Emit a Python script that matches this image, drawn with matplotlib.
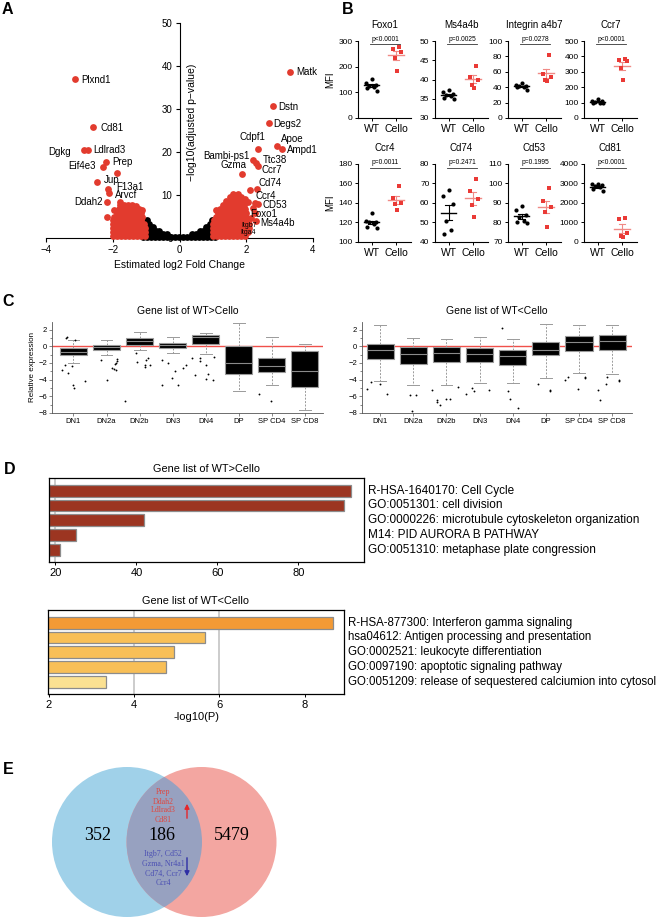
import matplotlib
matplotlib.use('Agg')
import matplotlib.pyplot as plt
from matplotlib.patches import Circle, FancyArrowPatch
import numpy as np

plt.rcParams['font.family'] = ['Liberation Sans', 'DejaVu Sans']
plt.rcParams['axes.linewidth'] = 0.8

W, H = 664, 917

# ---------------- A: volcano ----------------
# non-significant genes, read off as rows of (-log10 p, [log2 FC ...])
ns_rows = [
    (0.2, [-1.1, -0.98, -0.86, -0.74, -0.62, -0.5, -0.38, -0.26, -0.14, -0.02,
           0.1, 0.22, 0.34, 0.46, 0.58, 0.7, 0.82, 0.94, 1.06]),
    (0.9, [-1.08, -0.96, -0.84, -0.72, -0.6, -0.48, -0.38, 0.38, 0.48, 0.6, 0.72, 0.84, 0.96, 1.08]),
    (1.7, [-1.06, -0.94, -0.82, -0.7, -0.6, 0.6, 0.7, 0.82, 0.94, 1.06]),
    (2.5, [-1.04, -0.92, -0.8, 0.8, 0.92, 1.04]),
    (3.3, [-1.0, -0.9, 0.9, 1.0]),
    (4.1, [-0.97, 0.97]),
]
# significant genes, down (left) and up (right)
dn_rows = [
    (0.5, [-1.98, -1.86, -1.74, -1.62, -1.5, -1.38, -1.26, -1.14, -1.02]),
    (1.4, [-2.0, -1.88, -1.76, -1.64, -1.52, -1.4, -1.28, -1.16, -1.04]),
    (2.3, [-2.0, -1.88, -1.76, -1.64, -1.52, -1.4, -1.28, -1.16, -1.04]),
    (3.2, [-2.0, -1.88, -1.76, -1.64, -1.52, -1.4, -1.28, -1.16, -1.06]),
    (4.1, [-1.98, -1.86, -1.74, -1.62, -1.5, -1.38, -1.26, -1.14]),
    (4.8, [-2.18]),
    (5.0, [-1.95, -1.83, -1.71, -1.59, -1.47, -1.35, -1.23, -1.13]),
    (5.9, [-1.88, -1.76, -1.64, -1.52, -1.4, -1.28, -1.16]),
    (6.6, [-1.97, -1.12]),
    (6.8, [-1.82, -1.7, -1.58, -1.46, -1.34, -1.22]),
    (7.4, [-1.3]),
    (7.6, [-1.78, -1.66, -1.55, -1.43]),
    (8.4, [-1.79]),
    (15.1, [-1.87]),
]
up_rows = [
    (0.5, [1.0, 1.12, 1.24, 1.36, 1.48, 1.6, 1.72, 1.84, 1.96]),
    (1.4, [1.0, 1.12, 1.24, 1.36, 1.48, 1.6, 1.72, 1.84, 1.96, 2.05]),
    (2.3, [1.0, 1.12, 1.24, 1.36, 1.48, 1.6, 1.72, 1.84, 1.96, 2.08]),
    (3.2, [1.0, 1.12, 1.24, 1.36, 1.48, 1.6, 1.72, 1.84, 1.96, 2.08]),
    (4.1, [1.02, 1.14, 1.26, 1.38, 1.5, 1.62, 1.74, 1.86, 1.98]),
    (4.6, [2.15]),
    (5.0, [1.08, 1.2, 1.32, 1.44, 1.56, 1.68, 1.8, 1.92, 2.0]),
    (5.9, [1.15, 1.27, 1.39, 1.51, 1.63, 1.75, 1.87, 1.98, 2.25]),
    (6.5, [1.1]),
    (6.8, [1.22, 1.34, 1.46, 1.58, 1.7, 1.82, 1.96]),
    (7.0, [2.2]),
    (7.7, [1.3, 1.42, 1.54, 1.66, 1.78, 1.92]),
    (8.4, [2.05]),
    (8.6, [1.4, 1.52, 1.64, 1.76, 1.88]),
    (9.0, [1.97]),
    (9.5, [1.5, 1.62, 1.74, 1.85]),
    (10.3, [1.6, 1.75]),
    (11.1, [2.11]),
]

genes = ['Plxnd1', 'Cd81', 'Dgkg', 'Ldlrad3', 'Prep', 'Eif4e3', 'Jup', 'F13a1', 'Arvcf', 'Ddah2',
         'Matk', 'Dstn', 'Degs2', 'Apoe', 'Ampd1', 'Cdpf1', 'Bambi-ps1', 'Ttc38', 'Gzma', 'Ccr7',
         'Cd74', 'Ccr4', 'CD53', 'Foxo1', 'Ms4a4b', 'Itgb7', 'Itga4']
gene_fc = [-3.13, -2.59, -2.87, -2.75, -2.19, -2.29, -2.46, -2.13, -2.11, -2.16,
           3.31, 2.81, 2.67, 2.92, 3.08, 2.35, 2.19, 2.29, 1.87, 2.35,
           2.32, 2.27, 2.34, 2.04, 2.29, 1.72, 1.68]
gene_p = [37.0, 25.8, 20.4, 20.4, 17.7, 16.4, 13.0, 11.5, 10.5, 8.4,
          38.5, 30.6, 26.7, 21.5, 20.7, 20.6, 18.2, 17.4, 15.0, 16.7,
          11.3, 8.2, 7.9, 4.3, 4.0, 2.8, 1.2]
# label placement: pixel offsets from the point and alignment
label_pos = {'Plxnd1': (6, -1, 'left'), 'Cd81': (7, -1, 'left'), 'Dgkg': (-13, -2, 'right'),
             'Ldlrad3': (6, 0, 'left'), 'Prep': (6, 0, 'left'), 'Eif4e3': (-7, 1, 'right'),
             'Jup': (6, 2, 'left'), 'F13a1': (8, 2, 'left'), 'Arvcf': (6, -2, 'left'),
             'Ddah2': (-5, 0, 'right'), 'Matk': (6, 0, 'left'), 'Dstn': (5, -1, 'left'),
             'Degs2': (5, -1, 'left'), 'Apoe': (4, 7, 'left'), 'Ampd1': (5, -1, 'left'),
             'Cdpf1': (-5, 12, 'center'), 'Bambi-ps1': (-3, 4, 'right'), 'Ttc38': (7, 3, 'left'),
             'Gzma': (5, 9, 'right'), 'Ccr7': (4, -4, 'left'), 'Cd74': (2, 6, 'left'),
             'Ccr4': (0, 7, 'left'), 'CD53': (5, -1, 'left'), 'Foxo1': (3, 6, 'left'),
             'Ms4a4b': (4, -2, 'left'), 'Itgb7': (4, 0, 'left'), 'Itga4': (5, 0, 'left')}

# ---------------- B: MFI dot plots ----------------
b_titles = ['Foxo1', 'Ms4a4b', 'Integrin a4b7', 'Ccr7', 'Ccr4', 'Cd74', 'Cd53', 'Cd81']
b_wt = [[153, 135, 129, 125, 122, 118, 107],
        [37.2, 36.8, 36.3, 35.9, 35.6, 35.1, 34.9],
        [45.5, 43, 41.5, 41, 40.5, 40, 37],
        [125, 112, 108, 104, 100, 98, 95],
        [129.5, 122, 121, 120, 118.5, 115, 114],
        [66.5, 63.5, 59.5, 51, 46, 44],
        [88.5, 86.5, 84, 83, 81, 80, 79.5],
        [2990, 2950, 2900, 2850, 2800, 2700, 2620]]
b_cello = [[277, 270, 257, 235, 184],
           [43.4, 40.7, 39.8, 38.7, 37.8],
           [81.5, 57, 53, 49.5, 48.5],
           [382, 375, 368, 322, 245],
           [157.5, 145, 139.5, 139, 132.5],
           [72.5, 66, 62, 59, 53],
           [97.5, 91, 88, 85.5, 77.5],
           [1230, 1200, 460, 300, 240]]
b_pvals = ['p<0.0001', 'p=0.0025', 'p=0.0278', 'p<0.0001',
           'p=0.0011', 'p=0.2471', 'p=0.1995', 'p<0.0001']
b_yticks = [(0, 300, 100), (30, 50, 5), (0, 100, 20), (0, 500, 100),
            (100, 180, 20), (40, 80, 10), (70, 110, 10), (0, 4000, 1000)]

# ---------------- C: box plots ----------------
c_groups = ['DN1', 'DN2a', 'DN2b', 'DN3', 'DN4', 'DP', 'SP CD4', 'SP CD8']
# WT > Cello
c1_q1 = [-1.05, -0.45, 0.2, -0.2, 0.3, -3.3, -3.1, -4.9]
c1_med = [-0.75, -0.15, 0.6, 0.15, 1.1, -2.0, -2.4, -3.0]
c1_q3 = [-0.25, 0.1, 0.95, 0.4, 1.3, 0.0, -1.4, -0.6]
c1_wlo = [-2.0, -1.05, -0.45, -0.85, -0.9, -5.4, -4.7, -7.6]
c1_whi = [0.75, 0.8, 1.7, 1.1, 1.55, 2.8, 1.05, 0.3]
c1_out = [[-2.8, -2.3, -3.2, -2.4, -4.6, -5.0, -4.2, 1.0, 1.15, 0.75],
          [-1.7, -4.0, -2.6, -2.75, -2.1, -2.0, -1.5, -1.75, -2.8],
          [-0.8, -1.85, -6.6, -2.25, -1.7, -1.4, -2.2, -2.5],
          [-1.7, -2.0, -3.0, -3.8, -4.6, -4.6, -2.6, -2.2],
          [-1.45, -1.45, -1.8, -2.2, -1.25, -3.5, -3.3, -3.9, -4.0],
          [], [-5.7, -6.6], []]
c1_out_dx = [[-0.35, -0.27, -0.17, -0.05, -0.02, 0.02, 0.35, -0.23, -0.21, 0.05],
             [-0.18, 0.0, 0.17, 0.22, 0.25, 0.3, 0.32, 0.32, 0.28],
             [-0.1, -0.07, -0.45, 0.15, 0.2, 0.25, 0.33, 0.17],
             [-0.33, -0.13, 0.07, -0.03, 0.17, -0.33, 0.3, 0.4],
             [-0.4, -0.18, -0.17, 0.0, 0.25, -0.32, 0.07, 0.0, 0.23],
             [], [-0.38, -0.03], []]
# WT < Cello
c2_q1 = [-1.5, -2.1, -1.9, -1.9, -2.2, -1.1, -0.6, -0.5]
c2_med = [-0.5, -0.9, -0.8, -0.9, -1.2, -0.4, 0.5, 0.6]
c2_q3 = [0.3, -0.1, -0.1, -0.2, -0.5, 0.55, 1.2, 1.4]
c2_wlo = [-4.2, -4.7, -4.6, -4.4, -4.4, -3.8, -3.2, -3.3]
c2_whi = [2.6, 1.0, 0.9, 1.1, 0.9, 2.7, 2.6, 2.6]
c2_out = [[-5.1, -4.3, -4.5, -5.7],
          [-5.8, -5.8, -7.8],
          [-5.3, -6.5, -6.7, -7.0, -6.3, -6.3, -4.9],
          [-5.7, -5.0, -5.4, -5.3],
          [2.2, -5.4, -6.3, -7.4],
          [-4.5, -5.2, -5.4],
          [-4.1, -3.7, -5.1, -3.7, -3.8],
          [-5.3, -6.5, -4.5, -3.7, -4.1, -4.2]]
c2_out_dx = [[-0.4, -0.28, 0.0, 0.2],
             [-0.1, 0.08, -0.05],
             [-0.43, -0.3, -0.28, -0.2, 0.0, 0.1, 0.34],
             [-0.4, -0.23, -0.18, 0.27],
             [-0.33, -0.13, -0.08, 0.17],
             [-0.23, 0.12, 0.12],
             [-0.43, -0.33, -0.03, 0.17, 0.19],
             [-0.43, -0.36, -0.18, -0.15, 0.2, 0.22]]

# ---------------- D: enrichment bars ----------------
d1_terms = ['R-HSA-1640170: Cell Cycle', 'GO:0051301: cell division',
            'GO:0000226: microtubule cytoskeleton organization',
            'M14: PID AURORA B PATHWAY', 'GO:0051310: metaphase plate congression']
d1_vals = [93.0, 91.2, 41.8, 25.1, 21.0]
d2_terms = ['R-HSA-877300: Interferon gamma signaling',
            'hsa04612: Antigen processing and presentation',
            'GO:0002521: leukocyte differentiation',
            'GO:0097190: apoptotic signaling pathway',
            'GO:0051209: release of sequestered calciumion into cytosol']
d2_vals = [8.66, 5.67, 4.93, 4.75, 3.35]
d2_colors = ['#F39A35', '#F8BF57', '#F8BF57', '#F8BF57', '#FBE192']

# ---------------- E: Venn ----------------
venn_counts = [352, 186, 5479]
venn_up = ['Prep', 'Ddah2', 'Ldlrad3', 'Cd81']
venn_down = ['Itgb7, Cd52', 'Gzma, Nr4a1', 'Cd74, Ccr7', 'Ccr4']

RED = '#E23B2E'
CELLO = '#EA3A36'
CELLO_ERR = '#F08A86'


def px(x0, y0, x1, y1):
    return [x0 / W, 1 - y1 / H, (x1 - x0) / W, (y1 - y0) / H]


def flatten(rows):
    xs, ys = [], []
    for yv, xv in rows:
        xs += xv
        ys += [yv] * len(xv)
    return xs, ys


fig = plt.figure(figsize=(W / 100, H / 100), dpi=100)


def panel_label(x, y, s):
    fig.text(x / W, 1 - y / H, s, fontsize=11.5, fontweight='bold', ha='left', va='center')


# ----- A -----
ax = fig.add_axes(px(46, 23, 313, 238))
ns_fc, ns_p = flatten(ns_rows)
dn_fc, dn_p = flatten(dn_rows)
up_fc, up_p = flatten(up_rows)
ax.scatter(ns_fc, ns_p, s=24, color='black', lw=0, clip_on=False, zorder=2)
ax.scatter(dn_fc + up_fc, dn_p + up_p, s=24, color=RED, lw=0, clip_on=False, zorder=3)
ax.scatter(gene_fc, gene_p, s=24, color=RED, lw=0, clip_on=False, zorder=3)
for name, x, y in zip(genes, gene_fc, gene_p):
    dx, dy, ha = label_pos[name]
    fs = 5 if name in ('Itgb7', 'Itga4') else 7
    ax.annotate(name, (x, y), xytext=(dx, dy), textcoords='offset pixels',
                ha=ha, va='center', fontsize=fs, zorder=5)
ax.set_xlim(-4, 4)
ax.set_ylim(0, 50)
ax.spines['left'].set_position(('data', 0))
ax.spines['top'].set_visible(False)
ax.spines['right'].set_visible(False)
ax.set_xticks([-4, -2, 0, 2, 4])
ax.set_yticks(range(0, 51, 10))
ax.tick_params(direction='out', length=3, width=0.8, labelsize=7, pad=2)
ax.set_xlabel('Estimated log2 Fold Change', fontsize=7.5, labelpad=4)
ax.text(0.36, 27, '\u2212log10(adjusted p\u2212value)', rotation=90, ha='center',
        va='center', fontsize=7.5)
panel_label(2, 10, 'A')

# ----- B -----
panel_label(342, 9, 'B')
col_x = [358, 435, 508, 584]
row_y = [(41, 118), (164, 242)]
wt_dx = [0.0, -0.22, 0.18, -0.1, 0.1, -0.2, 0.22]
ce_dx = [0.12, -0.12, 0.18, -0.05, 0.05]
for k in range(8):
    r, c = divmod(k, 4)
    ax = fig.add_axes(px(col_x[c], row_y[r][0], col_x[c] + 53, row_y[r][1]))
    wt = np.array(b_wt[k])
    ce = np.array(b_cello[k])
    ax.scatter(np.array(wt_dx[:len(wt)]), wt, s=9, color='black', lw=0, zorder=3, clip_on=False)
    ax.scatter(1 + np.array(ce_dx[:len(ce)]), ce, s=9, marker='s', color=CELLO, lw=0,
               zorder=3, clip_on=False)
    for xc, d, col in [(0, wt, 'black'), (1, ce, CELLO_ERR)]:
        m = d.mean()
        se = d.std(ddof=1) / np.sqrt(len(d))
        ax.plot([xc - 0.32, xc + 0.32], [m, m], color=col, lw=1, zorder=2)
        ax.plot([xc, xc], [m - se, m + se], color=col, lw=0.8, zorder=2)
        ax.plot([xc - 0.13, xc + 0.13], [m + se] * 2, color=col, lw=0.8, zorder=2)
        ax.plot([xc - 0.13, xc + 0.13], [m - se] * 2, color=col, lw=0.8, zorder=2)
    lo, hi, st = b_yticks[k]
    ax.set_ylim(lo, hi)
    ax.set_yticks(np.arange(lo, hi + st / 2, st))
    ax.set_xlim(-0.55, 1.6)
    ax.set_xticks([0, 1])
    ax.set_xticklabels(['WT', 'Cello'])
    ax.spines['top'].set_visible(False)
    ax.spines['right'].set_visible(False)
    ax.tick_params(axis='y', labelsize=6, length=2.5, width=0.7, pad=1.5)
    ax.tick_params(axis='x', labelsize=7.5, length=2.5, width=0.7, pad=1.5)
    ax.set_title(b_titles[k], fontsize=7, pad=9)
    ax.plot([-0.05, 1.15], [0.955, 0.955], color='#333333', lw=0.6,
            transform=ax.get_xaxis_transform(), clip_on=False)
    ax.text(0.55, 0.975, b_pvals[k], transform=ax.get_xaxis_transform(), ha='center',
            va='bottom', fontsize=4.8)
    if c == 0:
        ax.set_ylabel('MFI', fontsize=7, labelpad=2)

# ----- C -----
panel_label(2, 302, 'C')
c_sets = [(px(52, 322, 323, 413), 'Gene list of WT>Cello', c1_q1, c1_med, c1_q3, c1_wlo,
           c1_whi, c1_out, c1_out_dx, (-0.65, 7.55), True),
          (px(362, 322, 632, 413), 'Gene list of WT<Cello', c2_q1, c2_med, c2_q3, c2_wlo,
           c2_whi, c2_out, c2_out_dx, (-0.55, 7.6), False)]
for rect, title, q1, med, q3, wlo, whi, outs, odx, xl, show_lab in c_sets:
    ax = fig.add_axes(rect)
    stats = [dict(q1=a, med=b, q3=c_, whislo=d, whishi=e, fliers=[])
             for a, b, c_, d, e in zip(q1, med, q3, wlo, whi)]
    ax.axhline(0, color='#F0504A', lw=1.0, zorder=1)
    ax.bxp(stats, positions=range(len(stats)), widths=0.82, patch_artist=True,
           showfliers=False, capwidths=0.36,
           boxprops=dict(facecolor='black', edgecolor='#9a9a9a', lw=0.8),
           medianprops=dict(color='#8a8a8a', lw=0.8),
           whiskerprops=dict(color='#9a9a9a', lw=0.7, linestyle=(0, (2, 1.5))),
           capprops=dict(color='#9a9a9a', lw=0.7), zorder=2)
    for i, (vals, dxs) in enumerate(zip(outs, odx)):
        if vals:
            ax.scatter(i + np.array(dxs), vals, s=1.8, color='black', lw=0, zorder=3)
    ax.set_xlim(*xl)
    ax.set_ylim(-8, 2.9)
    ax.set_yticks([-8, -6, -4, -2, 0, 2])
    ax.set_yticks(range(-7, 3, 2), minor=True)
    ax.set_xticks(range(len(c_groups)))
    ax.set_xticklabels(c_groups)
    for s in ['top', 'right']:
        ax.spines[s].set_visible(False)
    for s in ['left', 'bottom']:
        ax.spines[s].set_color('#555555')
        ax.spines[s].set_linewidth(0.6)
    ax.tick_params(labelsize=5.5, length=2, width=0.5, pad=1.5, color='#555555')
    ax.tick_params(which='minor', length=1.2, width=0.5, color='#555555')
    ax.set_title(title, fontsize=7.5, pad=6)
    if show_lab:
        ax.set_ylabel('Relative expression', fontsize=5.8, labelpad=2)

# ----- D -----
panel_label(4, 470, 'D')
d_sets = [(px(49, 478, 364, 562), 'Gene list of WT>Cello', d1_terms, d1_vals,
           ['#9C3521'] * 5, (18.4, 96.2), [20, 40, 60, 80], [20], None, 8.5),
          (px(48, 610, 344, 694), 'Gene list of WT<Cello', d2_terms, d2_vals,
           d2_colors, (1.98, 8.92), [2, 4, 6, 8], [4, 6], '-log10(P)', 8.3)]
for rect, title, terms, vals, cols, xl, ticks, grid, xlab, fs in d_sets:
    ax = fig.add_axes(rect)
    for g in grid:
        ax.axvline(g, color='#c4c4c4', lw=1.2, zorder=0)
    y = np.arange(len(vals))
    ax.barh(y, np.array(vals) - xl[0], left=xl[0], height=0.8, color=cols,
            edgecolor='#8c8c8c', lw=0.9, zorder=2)
    ax.set_xlim(*xl)
    ax.set_ylim(len(vals) - 0.17, -0.86)
    ax.set_yticks([])
    ax.set_xticks(ticks)
    ax.tick_params(axis='x', labelsize=8, length=2.5, width=0.7, pad=2)
    for s in ax.spines.values():
        s.set_linewidth(0.9)
    for i, t in enumerate(terms):
        ax.annotate(t, (1, i), xycoords=('axes fraction', 'data'), xytext=(4, 0),
                    textcoords='offset pixels', ha='left', va='center', fontsize=fs)
    ax.set_title(title, fontsize=7.8, pad=4)
    if xlab:
        ax.set_xlabel(xlab, fontsize=8, labelpad=1)

# ----- E -----
panel_label(3, 769, 'E')
ax = fig.add_axes(px(0, 740, 330, 917))
ax.set_xlim(0, 330)
ax.set_ylim(917, 740)
ax.axis('off')
blue = Circle((127, 842), 75, facecolor='#A0D1E9', edgecolor='none', zorder=1)
red = Circle((201.5, 842), 75, facecolor='#F3A6A1', edgecolor='none', zorder=2)
ax.add_patch(blue)
ax.add_patch(red)
lens = Circle((201.5, 842), 75, facecolor='#97A1C0', edgecolor='none', zorder=3)
ax.add_patch(lens)
lens.set_clip_path(blue)
serif = ['Liberation Serif', 'DejaVu Serif']
for xx, n in zip([98, 162, 232], venn_counts):
    ax.text(xx, 836, str(n), ha='center', va='center', fontsize=13, family=serif, zorder=5)
for i, g in enumerate(venn_up):
    ax.text(163, 792.5 + 9 * i, g, ha='center', va='center', fontsize=5.7, family=serif,
            color='#E0463E', zorder=5)
for i, g in enumerate(venn_down):
    ax.text(163, 854.5 + 9.5 * i, g, ha='center', va='center', fontsize=5.7, family=serif,
            color='#4B4FB3', zorder=5)
ax.add_patch(FancyArrowPatch((187, 821), (187, 801), arrowstyle='-|>', mutation_scale=7,
                             color='#E5262B', lw=1.0, zorder=6))
ax.add_patch(FancyArrowPatch((187, 855), (187, 879), arrowstyle='-|>', mutation_scale=7,
                             color='#2E2FA5', lw=1.0, zorder=6))

fig.savefig('out.png', dpi=100)
